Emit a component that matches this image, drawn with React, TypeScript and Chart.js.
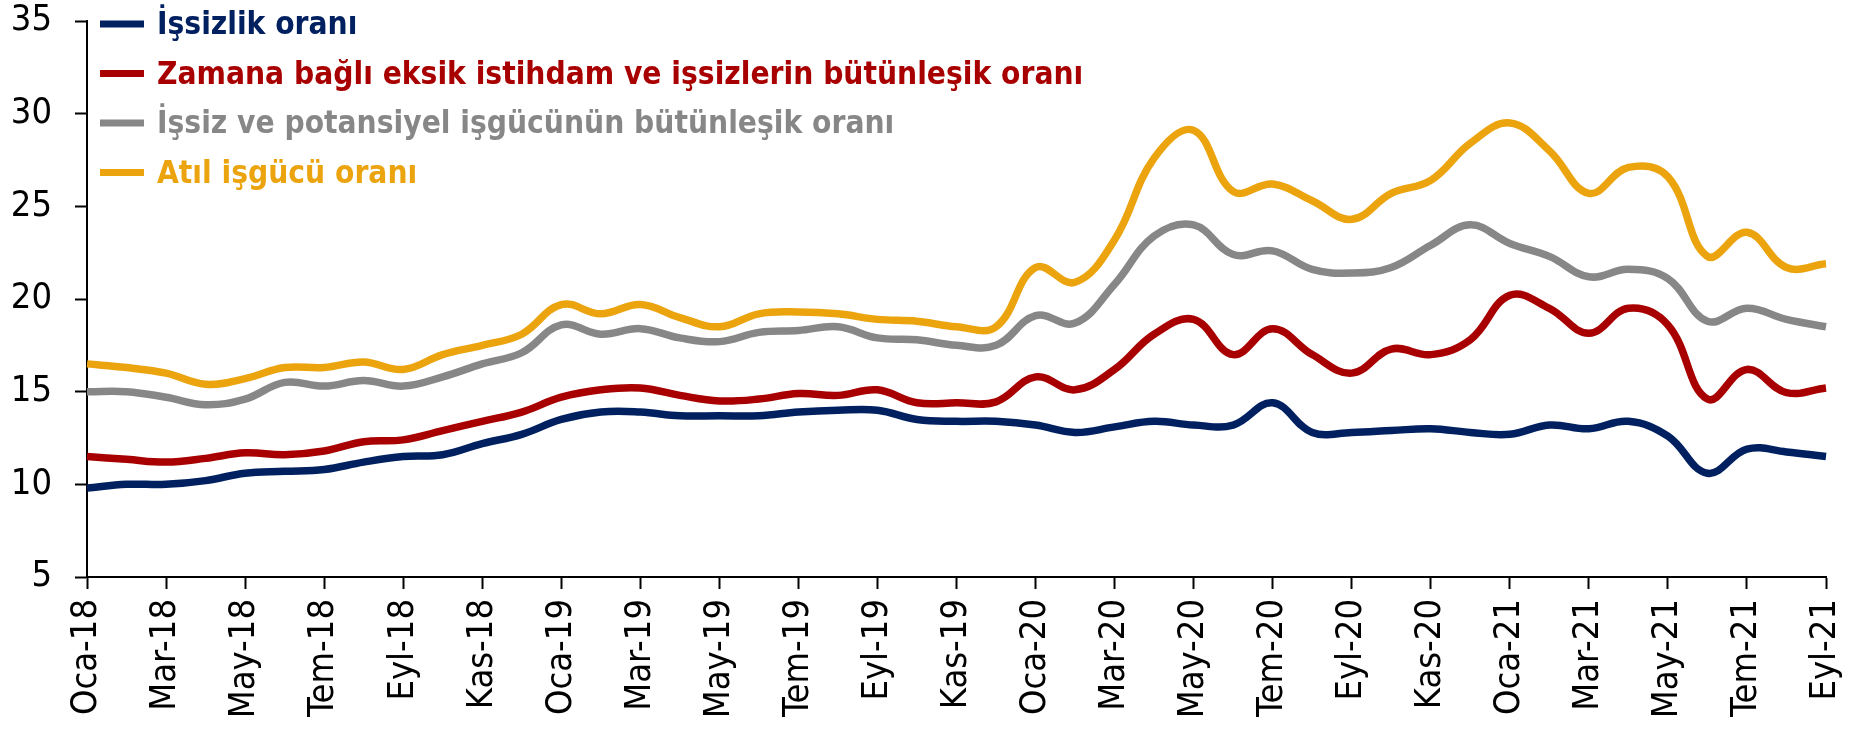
import React, { useEffect, useRef } from "react";
import { Chart, registerables } from "chart.js";

Chart.register(...registerables);

const monthLabels = [
  "Oca-18","Şub-18","Mar-18","Nis-18","May-18","Haz-18","Tem-18","Ağu-18","Eyl-18","Eki-18","Kas-18","Ara-18",
  "Oca-19","Şub-19","Mar-19","Nis-19","May-19","Haz-19","Tem-19","Ağu-19","Eyl-19","Eki-19","Kas-19","Ara-19",
  "Oca-20","Şub-20","Mar-20","Nis-20","May-20","Haz-20","Tem-20","Ağu-20","Eyl-20","Eki-20","Kas-20","Ara-20",
  "Oca-21","Şub-21","Mar-21","Nis-21","May-21","Haz-21","Tem-21","Ağu-21","Eyl-21",
];

const issizlik = [
  9.8, 10.0, 10.0, 10.2, 10.6, 10.7, 10.8, 11.2, 11.5, 11.6, 12.2, 12.7,
  13.5, 13.9, 13.9, 13.7, 13.7, 13.7, 13.9, 14.0, 14.0, 13.5, 13.4, 13.4,
  13.2, 12.8, 13.1, 13.4, 13.2, 13.2, 14.4, 12.8, 12.8, 12.9, 13.0, 12.8,
  12.7, 13.2, 13.0, 13.4, 12.6, 10.6, 11.9, 11.75, 11.5,
];

const zamanaBagli = [
  11.5, 11.35, 11.2, 11.4, 11.7, 11.6, 11.8, 12.3, 12.4, 12.9, 13.4, 13.9,
  14.7, 15.1, 15.2, 14.8, 14.5, 14.6, 14.9, 14.8, 15.1, 14.4, 14.4, 14.45,
  15.8, 15.1, 16.2, 18.1, 18.9, 17.0, 18.4, 17.0, 16.0, 17.3, 17.0, 17.8,
  20.2, 19.5, 18.15, 19.5, 18.6, 14.6, 16.2, 14.95, 15.2,
];

const potansiyel = [
  15.0, 15.0, 14.7, 14.3, 14.6, 15.5, 15.3, 15.6, 15.3, 15.8, 16.5, 17.1,
  18.6, 18.1, 18.4, 17.9, 17.7, 18.2, 18.3, 18.5, 17.9, 17.8, 17.5, 17.5,
  19.1, 18.7, 20.8, 23.4, 24.0, 22.4, 22.6, 21.6, 21.4, 21.7, 22.9, 24.0,
  23.0, 22.3, 21.2, 21.6, 21.1, 18.8, 19.5, 18.9, 18.5,
];

const atil = [
  16.5, 16.3, 16.0, 15.4, 15.7, 16.3, 16.3, 16.6, 16.2, 17.0, 17.5, 18.1,
  19.7, 19.2, 19.7, 19.0, 18.5, 19.2, 19.3, 19.2, 18.9, 18.8, 18.5, 18.5,
  21.7, 20.9, 23.2, 27.6, 29.1, 25.8, 26.2, 25.3, 24.3, 25.7, 26.4, 28.4,
  29.5, 28.0, 25.7, 27.1, 26.6, 22.3, 23.6, 21.7, 21.9,
];

const seriesNames = [
  "İşsizlik oranı",
  "Zamana bağlı eksik istihdam ve işsizlerin bütünleşik oranı",
  "İşsiz ve potansiyel işgücünün bütünleşik oranı",
  "Atıl işgücü oranı",
];

const seriesColors = ["#002060", "#A80000", "#878787", "#EBA40E"];

const FONT = "'DejaVu Sans Condensed', 'DejaVu Sans', sans-serif";

const legendPlugin = {
  id: "inlineLegend",
  afterDraw(chart: any) {
    const ctx = chart.ctx;
    const area = chart.chartArea;
    ctx.save();
    chart.data.datasets.forEach((ds: any, i: number) => {
      const y = area.top + 3 + i * 49.5;
      ctx.fillStyle = ds.borderColor;
      ctx.fillRect(area.left + 13, y - 3.5, 44, 7);
      ctx.font = `bold 31.4px ${FONT}`;
      ctx.textBaseline = "middle";
      ctx.textAlign = "left";
      ctx.fillText(ds.label, area.left + 70, y + 2);
    });
    ctx.restore();
  },
};

export default function App() {
  const canvasRef = useRef<HTMLCanvasElement | null>(null);

  useEffect(() => {
    if (!canvasRef.current) return;
    const data = [issizlik, zamanaBagli, potansiyel, atil];
    const chart = new Chart(canvasRef.current, {
      type: "line",
      data: {
        labels: monthLabels,
        datasets: data.map((d, i) => ({
          label: seriesNames[i],
          data: d,
          borderColor: seriesColors[i],
          backgroundColor: seriesColors[i],
          borderWidth: 7.5,
          pointRadius: 0,
          pointHoverRadius: 0,
          tension: 0.4,
          fill: false,
        })),
      },
      options: {
        responsive: false,
        animation: false,
        layout: { padding: { top: 21, right: 27, left: 0, bottom: 0 } },
        plugins: {
          legend: { display: false },
          tooltip: { enabled: false },
        },
        scales: {
          x: {
            offset: false,
            grid: {
              display: true,
              drawOnChartArea: false,
              drawTicks: true,
              tickLength: 12,
              tickWidth: 2,
              tickColor: "#000",
            },
            border: { display: true, color: "#000", width: 2 },
            ticks: {
              autoSkip: false,
              maxRotation: 90,
              minRotation: 90,
              padding: 10,
              color: "#000",
              font: { family: FONT, size: 36 },
              callback: function (this: any, value: any, index: number) {
                return index % 2 === 0 ? this.getLabelForValue(value) : null;
              },
            },
            afterFit(scale: any) {
              scale.height = 156;
              scale.paddingLeft = 0;
              scale.paddingRight = 0;
            },
          },
          y: {
            min: 5,
            max: 35,
            grid: {
              display: true,
              drawOnChartArea: false,
              drawTicks: true,
              tickLength: 12,
              tickWidth: 2,
              tickColor: "#000",
            },
            border: { display: true, color: "#000", width: 2 },
            ticks: {
              stepSize: 5,
              padding: 23,
              color: "#000",
              font: { family: FONT, size: 36 },
            },
            afterFit(scale: any) {
              scale.width = 87;
              scale.paddingTop = 0;
              scale.paddingBottom = 0;
            },
          },
        },
      },
      plugins: [legendPlugin],
    });
    return () => chart.destroy();
  }, []);

  return (
    <div style={{ position: "absolute", left: 0, top: 0, width: 1853, height: 733, background: "#fff" }}>
      <canvas ref={canvasRef} width={1853} height={733} style={{ width: 1853, height: 733, display: "block" }} />
    </div>
  );
}
